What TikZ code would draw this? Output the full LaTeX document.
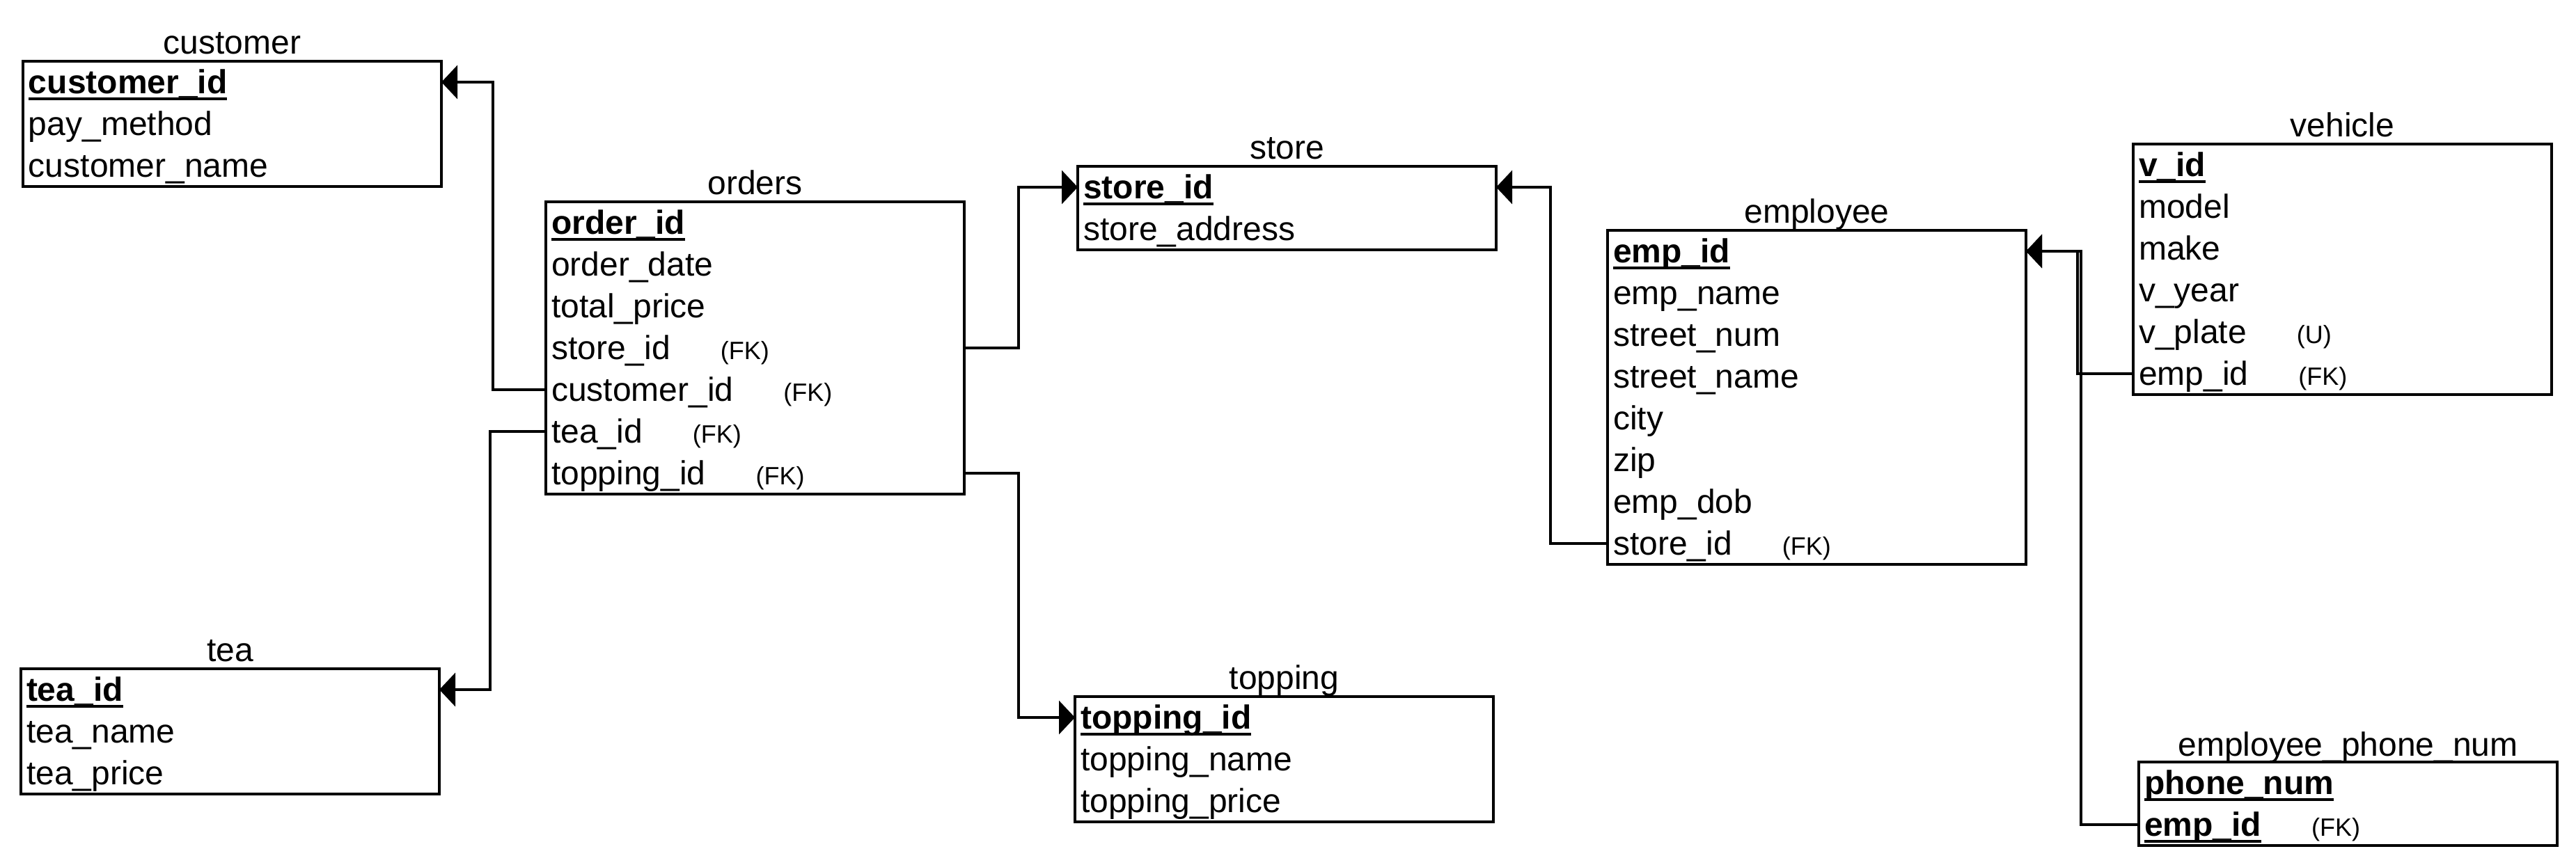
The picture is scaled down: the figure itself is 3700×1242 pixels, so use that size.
\documentclass[tikz,border=0pt]{standalone}
\usepackage{fontspec}
\setmainfont{Liberation Sans}
\usetikzlibrary{arrows.meta,positioning,fit}
\newcommand\rowfont{\fontsize{9.6pt}{11pt}\selectfont}
\newsavebox\pkbox
\newcommand\pkey[1]{\sbox\pkbox{\bfseries #1}\rlap{\rule[-2pt]{\wd\pkbox}{0.8pt}}\usebox\pkbox}
\newcommand\fkl[1]{\hspace{14.4pt}{\fontsize{7.2pt}{8pt}\selectfont #1}}
\tikzset{
  rowbox/.style={inner xsep=1.6pt, inner ysep=0pt, outer sep=0pt, text width=117pt, align=left,
    minimum height=12pt, text height=8.4pt, text depth=2pt, font=\rowfont},
  tbl/.style={draw, line width=0.75pt, inner sep=0pt},
  ttl/.style={anchor=base, font=\rowfont, inner sep=0pt},
  fk/.style={line width=0.75pt, -{Triangle[length=4.6pt,width=9.6pt]}}
}
\begin{document}
\begin{tikzpicture}[x=0.2pt,y=-0.2pt]
\fill[white] (0,0) rectangle (3700,1242);
\useasboundingbox (0,0) rectangle (3700,1242);

% customer
\node[rowbox, anchor=north west] (c1) at (33,88) {\pkey{customer\_id}};
\node[rowbox, below=0pt of c1] (c2) {pay\_method};
\node[rowbox, below=0pt of c2] (c3) {customer\_name};
\node[tbl, fit=(c1)(c3)] (customer) {};
\node[ttl] (customer-t) at ([yshift=1.8pt]customer.north) {customer};

% orders
\node[rowbox, anchor=north west] (o1) at (784,290) {\pkey{order\_id}};
\node[rowbox, below=0pt of o1] (o2) {order\_date};
\node[rowbox, below=0pt of o2] (o3) {total\_price};
\node[rowbox, below=0pt of o3] (o4) {store\_id\fkl{(FK)}};
\node[rowbox, below=0pt of o4] (o5) {customer\_id\fkl{(FK)}};
\node[rowbox, below=0pt of o5] (o6) {tea\_id\fkl{(FK)}};
\node[rowbox, below=0pt of o6] (o7) {topping\_id\fkl{(FK)}};
\node[tbl, fit=(o1)(o7)] (orders) {};
\node[ttl] (orders-t) at ([yshift=1.8pt]orders.north) {orders};

% store
\node[rowbox, anchor=north west] (s1) at (1548,239) {\pkey{store\_id}};
\node[rowbox, below=0pt of s1] (s2) {store\_address};
\node[tbl, fit=(s1)(s2)] (store) {};
\node[ttl] (store-t) at ([yshift=1.8pt]store.north) {store};

% employee
\node[rowbox, anchor=north west] (e1) at (2309,331) {\pkey{emp\_id}};
\node[rowbox, below=0pt of e1] (e2) {emp\_name};
\node[rowbox, below=0pt of e2] (e3) {street\_num};
\node[rowbox, below=0pt of e3] (e4) {street\_name};
\node[rowbox, below=0pt of e4] (e5) {city};
\node[rowbox, below=0pt of e5] (e6) {zip};
\node[rowbox, below=0pt of e6] (e7) {emp\_dob};
\node[rowbox, below=0pt of e7] (e8) {store\_id\fkl{(FK)}};
\node[tbl, fit=(e1)(e8)] (employee) {};
\node[ttl] (employee-t) at ([yshift=1.8pt]employee.north) {employee};

% vehicle
\node[rowbox, anchor=north west] (v1) at (3064,207) {\pkey{v\_id}};
\node[rowbox, below=0pt of v1] (v2) {model};
\node[rowbox, below=0pt of v2] (v3) {make};
\node[rowbox, below=0pt of v3] (v4) {v\_year};
\node[rowbox, below=0pt of v4] (v5) {v\_plate\fkl{(U)}};
\node[rowbox, below=0pt of v5] (v6) {emp\_id\fkl{(FK)}};
\node[tbl, fit=(v1)(v6)] (vehicle) {};
\node[ttl] (vehicle-t) at ([yshift=1.8pt]vehicle.north) {vehicle};

% employee_phone_num
\node[rowbox, anchor=north west] (p1) at (3072,1095) {\pkey{phone\_num}};
\node[rowbox, below=0pt of p1] (p2) {\pkey{emp\_id}\fkl{(FK)}};
\node[tbl, fit=(p1)(p2)] (phone) {};
\node[ttl] (phone-t) at ([yshift=1.4pt]phone.north) {employee\_phone\_num};

% tea
\node[rowbox, anchor=north west] (t1) at (30,961) {\pkey{tea\_id}};
\node[rowbox, below=0pt of t1] (t2) {tea\_name};
\node[rowbox, below=0pt of t2] (t3) {tea\_price};
\node[tbl, fit=(t1)(t3)] (tea) {};
\node[ttl] (tea-t) at ([yshift=1.8pt]tea.north) {tea};

% topping
\node[rowbox, anchor=north west] (tp1) at (1544,1001) {\pkey{topping\_id}};
\node[rowbox, below=0pt of tp1] (tp2) {topping\_name};
\node[rowbox, below=0pt of tp2] (tp3) {topping\_price};
\node[tbl, fit=(tp1)(tp3)] (topping) {};
\node[ttl] (topping-t) at ([yshift=1.8pt]topping.north) {topping};

% bend coordinates
\coordinate (jc) at (708,0);
\coordinate (jt) at (704,0);
\coordinate (js) at (1463,0);
\coordinate (je) at (2227,0);
\coordinate (jv) at (2984,0);
\coordinate (jp) at (2989,0);

% connectors
\draw[fk] (o5.west) -- (o5.west -| jc) |- (c1.east);
\draw[fk] (o6.west) -- (o6.west -| jt) |- (t1.east);
\draw[fk] (o4.east) -- (o4.east -| js) |- (s1.west);
\draw[fk] (o7.east) -- (o7.east -| js) |- (tp1.west);
\draw[fk] (e8.west) -- (e8.west -| je) |- (s1.east);
\draw[fk] (v6.west) -- (v6.west -| jv) |- (e1.east);
\draw[fk] (p2.west) -- (p2.west -| jp) |- (e1.east);
\end{tikzpicture}
\end{document}
